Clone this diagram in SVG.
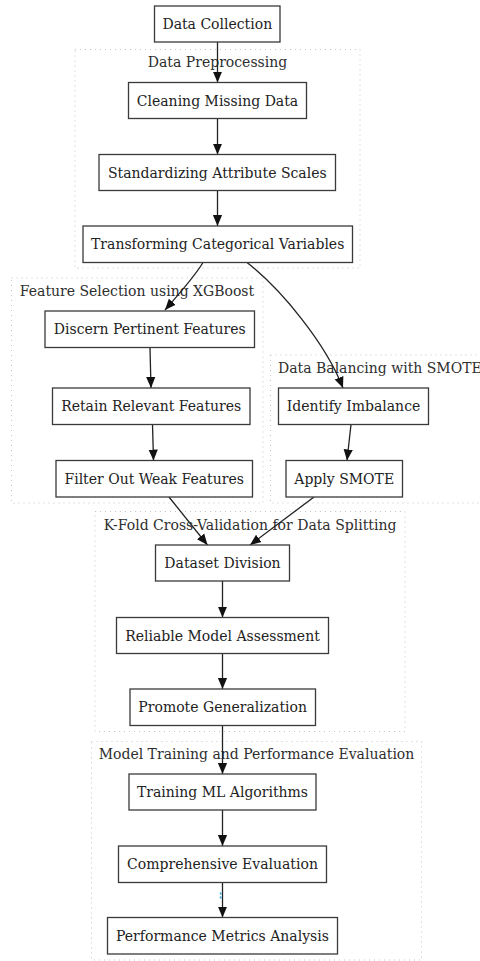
<svg xmlns="http://www.w3.org/2000/svg" width="480" height="961" viewBox="0 0 480 961">
<style>
.bg{fill:#ffffff}
.cl{fill:none;stroke:#c4c4c4;stroke-width:1;stroke-dasharray:1,4}
.cll{font-family:"DejaVu Serif",serif;font-size:14px;fill:#2e2e2e;text-anchor:middle}
.nb{fill:#fff;stroke:#3a3a3a;stroke-width:1.3}
.nt{font-family:"DejaVu Serif",serif;font-size:14px;fill:#222;text-anchor:middle}
.e{fill:none;stroke:#222;stroke-width:1.3}
</style>
<defs>
<marker id="ah" markerUnits="userSpaceOnUse" markerWidth="11" markerHeight="11" viewBox="0 0 10 10" refX="10" refY="5" orient="auto">
<path d="M0,0.8 L10,5 L0,9.2 Z" fill="#111"/>
</marker>
</defs>
<rect class="bg" x="0" y="0" width="480" height="961"/>
<g id="clusters">
<g id="cluster-preprocessing"><rect class="cl" x="75" y="49.5" width="285" height="218.5"/><text class="cll" x="217.5" y="67">Data Preprocessing</text></g>
<g id="cluster-feature"><rect class="cl" x="11.5" y="278" width="251.5" height="225"/><text class="cll" x="137" y="296">Feature Selection using XGBoost</text></g>
<g id="cluster-balancing"><rect class="cl" x="270.5" y="355" width="215" height="148"/><text class="cll" x="278" y="373" style="text-anchor:start">Data Balancing with SMOTE</text></g>
<g id="cluster-kfold"><rect class="cl" x="95" y="511.5" width="310" height="220"/><text class="cll" x="250" y="529.5">K-Fold Cross-Validation for Data Splitting</text></g>
<g id="cluster-training"><rect class="cl" x="91.5" y="741.5" width="330" height="218.5"/><text class="cll" x="256.5" y="758.5">Model Training and Performance Evaluation</text></g>
</g>
<g id="edges">
<path class="e" marker-end="url(#ah)" d="M217.5,42 L217.5,82.5"/>
<path class="e" marker-end="url(#ah)" d="M217.5,118.5 L217.5,154.5"/>
<path class="e" marker-end="url(#ah)" d="M217.5,190.5 L217.5,226"/>
<path class="e" marker-end="url(#ah)" d="M203,262.5 C195,276 180,293 165,310"/>
<path class="e" marker-end="url(#ah)" d="M247,262.5 C282,290 326,344 343,388"/>
<path class="e" marker-end="url(#ah)" d="M150,348 L151,388"/>
<path class="e" marker-end="url(#ah)" d="M152.5,424.5 L153.5,460.5"/>
<path class="e" marker-end="url(#ah)" d="M351,424.5 L347,460.5"/>
<path class="e" marker-end="url(#ah)" d="M169,497 L207.5,545"/>
<path class="e" marker-end="url(#ah)" d="M314,497 L250,545"/>
<path class="e" marker-end="url(#ah)" d="M222.5,581 L222.5,617.5"/>
<path class="e" marker-end="url(#ah)" d="M222.5,653.5 L222.5,689"/>
<path class="e" marker-end="url(#ah)" d="M222.5,725.5 L222.5,774"/>
<path class="e" marker-end="url(#ah)" d="M222.5,810 L222.5,846"/>
<path class="e" marker-end="url(#ah)" d="M222.5,882.5 L222.5,917.5"/>
<rect x="219.8" y="892.5" width="1.6" height="2" fill="#29a3d6"/>
<rect x="219.8" y="896.5" width="1.6" height="2" fill="#29a3d6"/>
</g>
<g id="n-data-collection"><rect class="nb" x="154.5" y="6" width="125.5" height="36"/><text class="nt" x="217.3" y="29">Data Collection</text></g>
<g id="n-cleaning"><rect class="nb" x="128.5" y="82.5" width="178" height="36"/><text class="nt" x="217.5" y="105.5">Cleaning Missing Data</text></g>
<g id="n-standardizing"><rect class="nb" x="99" y="154.5" width="236.5" height="36"/><text class="nt" x="217.3" y="177.5">Standardizing Attribute Scales</text></g>
<g id="n-transforming"><rect class="nb" x="83" y="226" width="269.5" height="36.5"/><text class="nt" x="217.7" y="249.3">Transforming Categorical Variables</text></g>
<g id="n-discern"><rect class="nb" x="45" y="311" width="209.5" height="36.5"/><text class="nt" x="149.7" y="334.3">Discern Pertinent Features</text></g>
<g id="n-retain"><rect class="nb" x="52.5" y="388" width="197.5" height="36.5"/><text class="nt" x="151.2" y="411.3">Retain Relevant Features</text></g>
<g id="n-filter"><rect class="nb" x="56" y="460.5" width="196.5" height="36.5"/><text class="nt" x="154.2" y="483.8">Filter Out Weak Features</text></g>
<g id="n-identify"><rect class="nb" x="278.5" y="388" width="150" height="36.5"/><text class="nt" x="353.5" y="411.3">Identify Imbalance</text></g>
<g id="n-apply"><rect class="nb" x="286" y="460.5" width="116.5" height="36.5"/><text class="nt" x="344.2" y="483.8">Apply SMOTE</text></g>
<g id="n-dataset-division"><rect class="nb" x="155.5" y="545" width="134" height="36"/><text class="nt" x="222.5" y="568">Dataset Division</text></g>
<g id="n-reliable"><rect class="nb" x="116.5" y="617.5" width="212" height="36"/><text class="nt" x="222.5" y="640.5">Reliable Model Assessment</text></g>
<g id="n-promote"><rect class="nb" x="130" y="689" width="185.5" height="36.5"/><text class="nt" x="222.7" y="712.3">Promote Generalization</text></g>
<g id="n-training"><rect class="nb" x="129" y="774" width="187" height="36"/><text class="nt" x="222.5" y="797">Training ML Algorithms</text></g>
<g id="n-comprehensive"><rect class="nb" x="118.5" y="846" width="208" height="36.5"/><text class="nt" x="222.5" y="869.3">Comprehensive Evaluation</text></g>
<g id="n-performance"><rect class="nb" x="107.5" y="917.5" width="230" height="36.5"/><text class="nt" x="222.5" y="940.8">Performance Metrics Analysis</text></g>
</svg>
